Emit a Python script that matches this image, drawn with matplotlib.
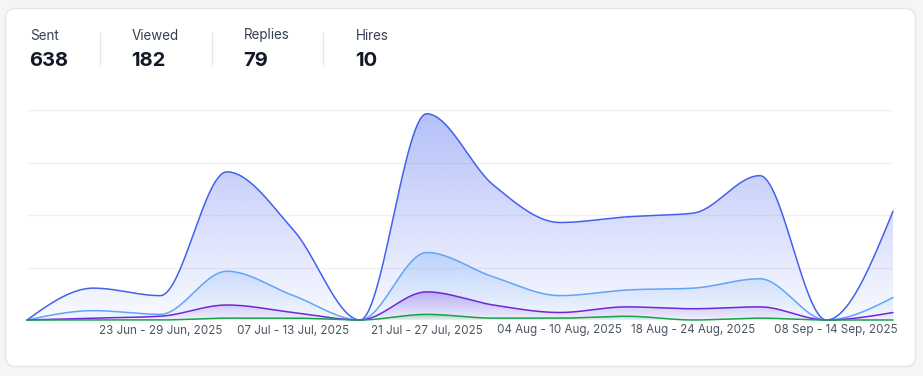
import numpy as np
import matplotlib
matplotlib.use("Agg")
import matplotlib.pyplot as plt
from matplotlib.patches import FancyBboxPatch, PathPatch
from matplotlib.path import Path
import matplotlib.transforms as mtransforms

plt.rcParams['font.family'] = ['Inter', 'DejaVu Sans']

# ---------------- data ----------------
weeks = ["09 Jun - 15 Jun, 2025", "16 Jun - 22 Jun, 2025", "23 Jun - 29 Jun, 2025",
         "30 Jun - 06 Jul, 2025", "07 Jul - 13 Jul, 2025", "14 Jul - 20 Jul, 2025",
         "21 Jul - 27 Jul, 2025", "28 Jul - 03 Aug, 2025", "04 Aug - 10 Aug, 2025",
         "11 Aug - 17 Aug, 2025", "18 Aug - 24 Aug, 2025", "25 Aug - 31 Aug, 2025",
         "01 Sep - 07 Sep, 2025", "08 Sep - 14 Sep, 2025"]
sent    = [0, 17, 13, 79, 48, 0, 110, 72, 52, 55, 57, 77, 0, 58]
viewed  = [0, 5, 3, 26, 13, 0, 36, 23, 13, 16, 17, 22, 0, 12]
replies = [0, 1, 2, 8, 4, 0, 15, 8, 4, 7, 6, 7, 0, 4]
hires   = [0, 0, 0, 1, 1, 0, 3, 1, 1, 2, 0, 1, 0, 0]
series_names = ["Sent", "Viewed", "Replies", "Hires"]
totals = ["638", "182", "79", "10"]
shown_ticks = [2, 4, 6, 8, 10]
colors = ["#4361ee", "#60a5fa", "#6d28d9", "#16a34a"]

W, H = 923, 376
fig = plt.figure(figsize=(W / 100, H / 100), dpi=100)
fig.patch.set_facecolor("#f5f5f5")

# card
card = FancyBboxPatch((5.5, 9.5), 910, 358, boxstyle="round,pad=0,rounding_size=10",
                      transform=None, facecolor="white", edgecolor="#e4e5e9", lw=1, zorder=-5)
fig.patches.append(card)

def fx(x):
    return x / W

def fy(y):
    return 1 - y / H

# header
label_x = [30, 132, 244, 356]
for name, tot, x in zip(series_names, totals, label_x):
    fig.text(fx(x), fy(39.5), name, fontsize=9.7, color="#374151", va="baseline", ha="left")
    fig.text(fx(x - 1), fy(66), tot, fontsize=14.5, color="#111827", va="baseline",
             ha="left", fontweight="bold")
for sx in [100, 212, 323]:
    fig.add_artist(plt.Line2D([fx(sx), fx(sx)], [fy(33), fy(64)], color="#e5e7eb", lw=1,
                              transform=fig.transFigure))

# axes
left, right, top, bottom = 27, 893, 110, 320
ax = fig.add_axes([fx(left), fy(bottom), (right - left) / W, (bottom - top) / H])
ax.set_facecolor("none")
ax.set_zorder(1)
n = len(sent)
x = np.arange(n)
ymax = 112
ax.set_xlim(0, n - 1)
ax.set_ylim(0, ymax)
for s in ax.spines.values():
    s.set_visible(False)
ax.set_xticks([])
ax.set_yticks([])
for gy in [28, 56, 84, 112]:
    ax.axhline(gy, color="#f0f1f4", lw=1, zorder=0.5)


def monotone(xs, ys, per=60):
    xs = np.asarray(xs, float)
    ys = np.asarray(ys, float)
    m = len(xs)
    h = np.diff(xs)
    s = np.diff(ys) / h
    t = np.zeros(m)
    for i in range(1, m - 1):
        h0, h1 = h[i - 1], h[i]
        s0, s1 = s[i - 1], s[i]
        p = (s0 * h1 + s1 * h0) / (h0 + h1)
        t[i] = (np.sign(s0) + np.sign(s1)) * min(abs(s0), abs(s1), 0.5 * abs(p))
    t[0] = (3 * s[0] - t[1]) / 2 if m > 2 else s[0]
    t[-1] = (3 * s[-1] - t[-2]) / 2 if m > 2 else s[-1]
    ox, oy = [], []
    for i in range(m - 1):
        u = np.linspace(0, 1, per, endpoint=(i == m - 2))
        hh = h[i]
        h00 = 2 * u**3 - 3 * u**2 + 1
        h10 = u**3 - 2 * u**2 + u
        h01 = -2 * u**3 + 3 * u**2
        h11 = u**3 - u**2
        ox.append(xs[i] + u * hh)
        oy.append(h00 * ys[i] + h10 * hh * t[i] + h01 * ys[i + 1] + h11 * hh * t[i + 1])
    return np.concatenate(ox), np.concatenate(oy)


all_series = [sent, viewed, replies, hires]
alphas_top = [0.40, 0.30, 0.30, 0.30]
for k, (vals, col, a_top) in enumerate(zip(all_series, colors, alphas_top)):
    cx, cy = monotone(x, vals)
    cy = np.maximum(cy, 0)
    smax = max(vals)
    verts = np.vstack([np.column_stack([cx, cy]), [[cx[-1], 0], [cx[0], 0]]])
    path = Path(verts, closed=True)
    patch = PathPatch(path, facecolor="none", edgecolor="none", transform=ax.transData)
    ax.add_patch(patch)
    rgb = np.array(matplotlib.colors.to_rgb(col))
    grad_n = 256
    alpha = np.linspace(0.03, a_top, grad_n)[:, None] * np.ones((1, 2))
    img = np.zeros((grad_n, 2, 4))
    img[..., :3] = rgb
    img[..., 3] = alpha
    im = ax.imshow(img, extent=[0, n - 1, 0, max(smax, 1e-3)], origin="lower",
                   aspect="auto", zorder=1 + k * 0.1, interpolation="bilinear")
    im.set_clip_path(patch)
    ax.plot(cx, cy, color=col, lw=1.1, zorder=3 + k * 0.1, clip_on=False,
            solid_capstyle="round")

ax.set_xlim(0, n - 1)
ax.set_ylim(0, ymax)

# x labels
trans = mtransforms.blended_transform_factory(ax.transData, fig.transFigure)
for i in shown_ticks:
    ax.text(i, fy(333.5), weeks[i], transform=trans, ha="center", va="baseline",
            fontsize=8.4, color="#4b5563")
fig.text(fx(898), fy(333.5), weeks[-1], ha="right", va="baseline", fontsize=8.4,
         color="#4b5563")

fig.savefig("out.png", dpi=100, facecolor=fig.get_facecolor())
